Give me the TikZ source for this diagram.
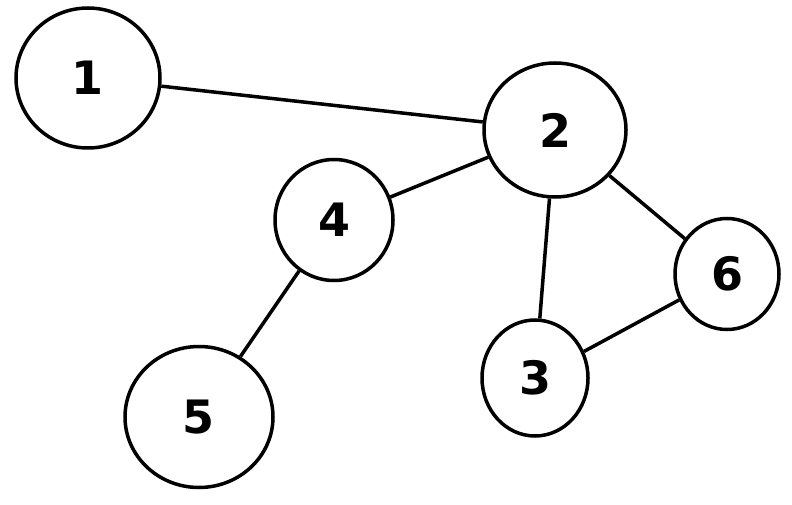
\documentclass[tikz,border=0pt]{standalone}
\usepackage{fontspec}
\setmainfont{DejaVu Sans}
\usetikzlibrary{shapes.geometric}
\begin{document}
\begin{tikzpicture}[x=1pt,y=-1pt,
  vert/.style={draw=black,line width=3.5pt,ellipse,inner sep=0pt,fill=white,font=\fontsize{46}{46}\selectfont\bfseries},
  edge/.style={draw=black,line width=3.5pt}]
\useasboundingbox (0,0) rectangle (792,505);
\node[vert,minimum width=144pt,minimum height=140pt] (n1) at (88,78) {1};
\node[vert,minimum width=142pt,minimum height=134pt] (n2) at (555,130) {2};
\node[vert,minimum width=118pt,minimum height=121pt] (n4) at (334,220) {4};
\node[vert,minimum width=148pt,minimum height=141pt] (n5) at (199,417) {5};
\node[vert,minimum width=106pt,minimum height=116pt] (n3) at (535,378) {3};
\node[vert,minimum width=104pt,minimum height=111pt] (n6) at (727,274) {6};
\begin{scope}[on background layer/.try]
\end{scope}
\draw[edge] (n1) -- (n2);
\draw[edge] (n2) -- (n4);
\draw[edge] (n2) -- (n3);
\draw[edge] (n2) -- (n6);
\draw[edge] (n6) -- (n3);
\draw[edge] (n4) -- (n5);
\end{tikzpicture}
\end{document}
